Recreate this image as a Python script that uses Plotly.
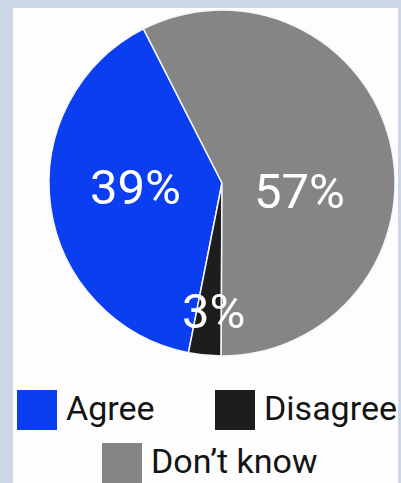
import plotly.graph_objects as go

# Survey answers
labels = ["Agree", "Disagree", "Don’t know"]
values = [39, 3, 57]
colors = ["#0b3ef0", "#1d1d1d", "#858585"]

W, H = 401, 483
FONT = "Roboto, Liberation Sans, sans-serif"


def fx(px):
    return px / W


def fy(py):
    return 1 - py / H


fig = go.Figure()

# Counterclockwise pie; the first slice (Agree) ends at the upper-left edge
total = sum(values)
agree_end = -27
rotation = agree_end - 360 * values[0] / total

fig.add_trace(go.Pie(
    labels=labels,
    values=values,
    marker=dict(colors=colors, line=dict(color="#f4f6fa", width=1.5)),
    sort=False,
    direction="counterclockwise",
    rotation=rotation,
    textinfo="none",
    hoverinfo="label+percent",
    showlegend=False,
    domain=dict(x=[fx(48), fx(396)], y=[fy(356), fy(10)]),
))

# Percentage labels placed over each slice (pixel anchors)
label_pos = [(135, 188), (213, 311), (299, 191)]
annotations = []
for v, (x, y) in zip(values, label_pos):
    annotations.append(dict(
        x=fx(x), y=fy(y), xref="paper", yref="paper",
        text=f"{v}%", showarrow=False,
        xanchor="center", yanchor="middle",
        font=dict(family=FONT, size=49, color="white"),
    ))

# Legend: colour swatch + caption, laid out in two rows
legend_pos = [(17, 390), (215, 390), (102, 443)]
shapes = [
    # light frame and white panel
    dict(type="rect", xref="paper", yref="paper", x0=0, x1=1, y0=0, y1=1,
         fillcolor="#cbd6e6", line=dict(width=0), layer="below"),
    dict(type="rect", xref="paper", yref="paper", x0=fx(13), x1=fx(398),
         y0=0, y1=fy(8), fillcolor="#fdfdfd", line=dict(width=0), layer="below"),
]
for lab, col, (x, y) in zip(labels, colors, legend_pos):
    shapes.append(dict(
        type="rect", xref="paper", yref="paper",
        x0=fx(x), x1=fx(x + 40), y0=fy(y + 40), y1=fy(y),
        fillcolor=col, line=dict(width=0),
    ))
    annotations.append(dict(
        x=fx(x + 47), y=fy(y + 18), xref="paper", yref="paper",
        text=lab, showarrow=False, xanchor="left", yanchor="middle",
        font=dict(family=FONT, size=34, color="#141414"),
    ))

fig.update_layout(
    width=W, height=H,
    margin=dict(l=0, r=0, t=0, b=0),
    paper_bgcolor="#cbd6e6",
    plot_bgcolor="#cbd6e6",
    shapes=shapes,
    annotations=annotations,
    showlegend=False,
)

fig.write_html("out.html")
